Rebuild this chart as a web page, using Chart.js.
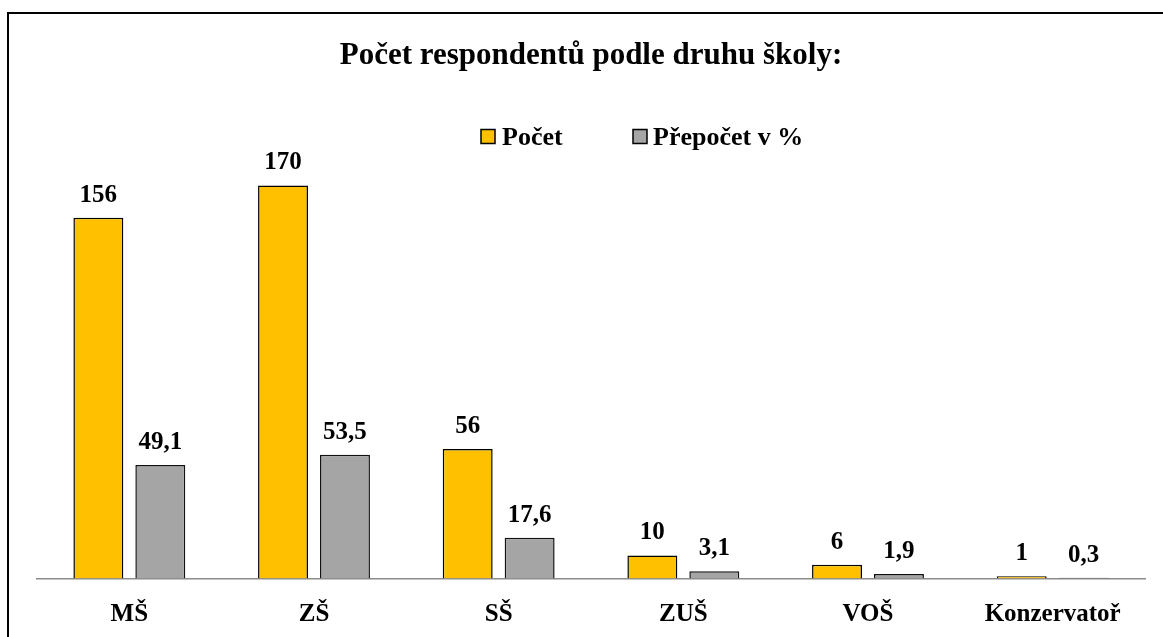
<!DOCTYPE html>
<html>
<head>
<meta charset="utf-8">
<script src="https://cdn.jsdelivr.net/npm/chart.js@4/dist/chart.umd.min.js"></script>
<style>
html,body{margin:0;padding:0;background:#fff;}
#wrap{position:absolute;left:0;top:0;width:1163px;height:637px;}
</style>
</head>
<body>
<div id="wrap"><canvas id="c" width="1163" height="637"></canvas></div>
<script>
const categories = ["MŠ", "ZŠ", "SŠ", "ZUŠ", "VOŠ", "Konzervatoř"];
const countValues = [156, 170, 56, 10, 6, 1];
const percentValues = [49.1, 53.5, 17.6, 3.1, 1.9, 0.3];
const seriesNames = ["Počet", "Přepočet v %"];
const titleText = "Počet respondentů podle druhu školy:";

const FONT = "'Liberation Serif', 'Times New Roman', serif";

const framePlugin = {
  id: 'frame',
  beforeDraw(chart) {
    const ctx = chart.ctx;
    ctx.save();
    ctx.fillStyle = '#fff';
    ctx.fillRect(0, 0, chart.width, chart.height);
    ctx.strokeStyle = '#000';
    ctx.lineWidth = 2;
    ctx.strokeRect(8, 13, chart.width + 20, chart.height + 20);
    ctx.restore();
  }
};

const labelPlugin = {
  id: 'valueLabels',
  afterDatasetsDraw(chart) {
    const ctx = chart.ctx;
    ctx.save();
    ctx.font = "bold 25px " + FONT;
    ctx.fillStyle = '#000';
    ctx.textAlign = 'center';
    ctx.textBaseline = 'alphabetic';
    chart.data.datasets.forEach((ds, di) => {
      const meta = chart.getDatasetMeta(di);
      meta.data.forEach((el, i) => {
        const v = ds.data[i];
        const txt = di === 0 ? String(v) : v.toFixed(1).replace('.', ',');
        ctx.fillText(txt, el.x, el.y - 16);
      });
    });
    ctx.restore();
  }
};

const legendPlugin = {
  id: 'customLegend',
  afterDraw(chart) {
    const ctx = chart.ctx;
    const items = [
      {box: 481, text: 502},
      {box: 633, text: 653}
    ];
    ctx.save();
    ctx.font = "bold 26px " + FONT;
    ctx.textBaseline = 'alphabetic';
    ctx.textAlign = 'left';
    chart.data.datasets.forEach((ds, di) => {
      const it = items[di];
      ctx.fillStyle = ds.backgroundColor;
      ctx.fillRect(it.box, 129.5, 14, 14);
      ctx.strokeStyle = '#000';
      ctx.lineWidth = 1.5;
      ctx.strokeRect(it.box, 129.5, 14, 14);
      ctx.fillStyle = '#000';
      ctx.fillText(ds.label, it.text, 145);
    });
    ctx.restore();
  }
};

new Chart(document.getElementById('c'), {
  type: 'bar',
  data: {
    labels: categories,
    datasets: [
      {label: seriesNames[0], data: countValues, backgroundColor: '#FFC000', borderColor: '#000', borderWidth: 1.5,
       barPercentage: 0.806, categoryPercentage: 0.671},
      {label: seriesNames[1], data: percentValues, backgroundColor: '#A5A5A5', borderColor: '#111', borderWidth: 1.5,
       barPercentage: 0.806, categoryPercentage: 0.671}
    ]
  },
  options: {
    responsive: false,
    animation: false,
    devicePixelRatio: 1,
    layout: {padding: {left: 37, right: 18, top: 0, bottom: 0}},
    plugins: {
      legend: {display: false},
      tooltip: {enabled: false},
      title: {
        display: true,
        text: titleText,
        color: '#000',
        font: {family: FONT, size: 31, weight: 'bold', lineHeight: 1.2},
        padding: {top: 37, bottom: 41.8}
      }
    },
    scales: {
      x: {
        offset: true,
        grid: {display: false, drawTicks: false},
        border: {display: true, color: '#8c8c8c', width: 1.5},
        ticks: {color: '#000', font: {family: FONT, size: 25, weight: 'bold'}, padding: 21, maxRotation: 0, autoSkip: false},
        afterFit(scale) { scale.height = 58.5; }
      },
      y: {
        display: false,
        min: 0,
        max: 200
      }
    }
  },
  plugins: [framePlugin, labelPlugin, legendPlugin]
});
</script>
</body>
</html>
